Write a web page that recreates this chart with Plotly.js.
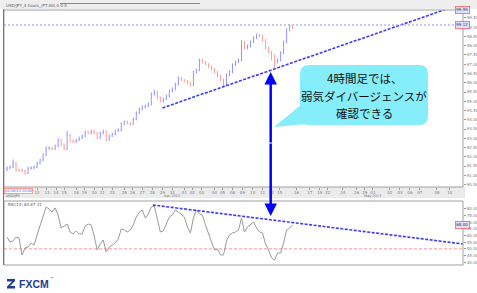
<!DOCTYPE html>
<html>
<head>
<meta charset="utf-8">
<script src="https://cdn.plot.ly/plotly-3.0.1.min.js"></script>
<style>html,body{margin:0;padding:0;background:#fff;}#chart{width:477px;height:293px;}</style>
</head>
<body>
<div id="chart"></div>
<script>
// ---- data ----
const opens = [91.30,91.39,91.45,91.66,91.28,91.28,91.23,91.12,91.39,91.39,
 91.45,91.66,91.83,92.10,92.47,92.47,92.42,92.58,92.91,92.64,
 92.42,93.18,92.85,92.80,92.91,93.01,93.12,93.34,93.28,93.39,
 93.28,93.01,93.28,93.39,92.91,93.12,93.23,93.39,93.45,93.77,
 93.88,93.82,93.77,94.04,94.37,94.58,94.69,94.74,94.85,95.39,
 95.50,95.18,95.01,95.12,95.28,95.55,95.66,95.93,96.26,96.15,
 96.09,95.99,95.88,96.58,96.69,97.23,97.12,97.01,96.85,96.74,
 96.58,96.37,96.15,95.88,96.42,96.58,96.96,97.12,97.23,98.20,
 97.88,97.99,98.20,98.42,98.58,98.53,98.31,97.88,97.66,97.45,
 97.12,97.23,97.61,98.20,98.85,99.07];
const highs = [91.47,91.53,91.85,91.72,91.36,91.35,91.30,91.46,91.48,91.52,
 91.73,91.90,92.18,92.56,92.55,92.53,92.66,93.00,92.97,92.71,
 93.40,93.24,92.93,92.98,93.09,93.19,93.42,93.40,93.47,93.45,
 93.34,93.36,93.46,93.44,93.20,93.30,93.47,93.53,93.85,93.96,
 93.95,93.88,94.12,94.45,94.66,94.77,94.82,94.93,95.47,95.62,
 95.56,95.25,95.20,95.35,95.63,95.74,96.01,96.34,96.32,96.21,
 96.15,96.05,96.66,96.77,97.31,97.29,97.18,97.07,96.92,96.80,
 96.64,96.43,96.21,96.50,96.66,97.04,97.20,97.31,98.30,98.26,
 98.06,98.28,98.50,98.66,98.64,98.60,98.37,97.94,97.72,97.52,
 97.31,97.69,98.28,98.93,99.18,99.14];
const lows = [91.22,91.32,91.38,91.20,91.19,91.15,91.03,91.06,91.31,91.33,
 91.39,91.59,91.76,92.03,92.38,92.35,92.36,92.51,92.57,92.35,
 92.36,92.78,92.72,92.74,92.85,92.95,93.06,93.21,93.22,93.20,
 92.94,92.96,93.21,92.83,92.85,93.06,93.16,93.32,93.38,93.70,
 93.75,93.70,93.71,93.97,94.30,94.51,94.62,94.67,94.78,95.32,
 95.10,94.93,94.95,95.06,95.21,95.48,95.59,95.86,96.08,96.02,
 95.92,95.81,95.82,96.51,96.62,97.05,96.94,96.78,96.67,96.51,
 96.30,96.08,95.80,95.82,96.36,96.51,96.89,97.06,97.16,97.80,
 97.82,97.92,98.14,98.35,98.46,98.24,97.80,97.58,97.20,96.80,
 97.05,97.16,97.54,98.13,98.78,98.90];
const closes = [91.39,91.45,91.66,91.28,91.28,91.23,91.12,91.39,91.39,91.45,
 91.66,91.83,92.10,92.47,92.47,92.42,92.58,92.91,92.64,92.42,
 93.18,92.85,92.80,92.91,93.01,93.12,93.34,93.28,93.39,93.28,
 93.01,93.28,93.39,92.91,93.12,93.23,93.39,93.45,93.77,93.88,
 93.82,93.77,94.04,94.37,94.58,94.69,94.74,94.85,95.39,95.50,
 95.18,95.01,95.12,95.28,95.55,95.66,95.93,96.26,96.15,96.09,
 95.99,95.88,96.58,96.69,97.23,97.12,97.01,96.85,96.74,96.58,
 96.37,96.15,95.88,96.42,96.58,96.96,97.12,97.23,98.20,97.88,
 97.99,98.20,98.42,98.58,98.53,98.31,97.88,97.66,97.45,97.12,
 97.23,97.61,98.20,98.85,99.07,98.96];
const rsi = [58.9,55.2,55.9,58.9,58.2,45.4,50.7,51.4,54.4,52.9,
 60.4,67.2,74.7,81.5,80.0,77.7,80.8,75.5,65.7,67.2,
 68.7,62.7,61.2,63.5,61.2,61.2,67.2,68.7,68.0,59.7,
 49.2,53.7,56.7,47.7,51.4,52.9,54.4,57.4,65.0,64.2,
 62.7,64.2,68.0,74.0,77.7,79.2,73.2,76.2,81.5,82.3,
 73.2,62.7,63.5,69.5,74.0,75.5,79.2,77.7,75.5,74.0,
 66.5,62.0,73.2,79.2,76.2,75.5,68.0,62.0,56.7,49.2,
 49.9,45.4,45.4,55.9,60.4,62.0,62.7,64.2,73.2,62.7,
 66.5,68.7,70.2,65.7,62.7,62.0,53.7,49.2,43.2,41.6,
 46.9,46.9,54.4,64.2,65.7,68.0];
const bars = opens.map((_, i) => i);

const priceTrendX = [51.7, 146.3];
const priceTrendY = [94.64, 99.99];
const resistanceLevel = 99.12;
const rsiTrendX = [48.5, 151.7];
const rsiTrendY = [83.0, 53.7];
const rsiLevel = 50;
const arrowBar = 87.7;

const priceTicks = [90.5,91.0,91.5,92.0,92.5,93.0,93.5,94.0,94.5,95.0,95.5,96.0,96.5,97.0,97.5,98.0,98.5,99.0,99.5];
const rsiTicks = [40,45,50,55,60,65,70,75,80];
const dateTickPos = [10,13.3,16.3,19,23,25.7,29,31.7,35,39,41.7,45,48.3,51.7,55,59,61.7,64.7,69,71.7,75,78.3,81.7,85,88,90.7,96.3,100.7,104,106.7,111.7,116.3,119,121.7,127.3,130.7,134,137.3,143,147.3];
const dateTickText = ["12","13","14","15","18","19","20","21","22","25","26","27","28","29","31","01","02","03","04","05","08","09","10","11","12","15","16","17","19","22","24","26","29","01","02","03","06","07","08","10"];
const monthLabels = ["Apr 2013","May 2013"];
const monthPos = [55, 121.7];
const calloutLines = ["4時間足では、","弱気ダイバージェンスが","確認できる"];

// ---- layout helpers ----
const W = 477, H = 293;
const fx = x => x / W;
const fy = y => 1 - y / H;
const xRange = [-1, 151.67];
const tickFont = {family: "DejaVu Sans", size: 4, color: "#777"};

function roundRect(x0, y0, x1, y1, r) {
  return `M ${fx(x0 + r)},${fy(y0)} L ${fx(x1 - r)},${fy(y0)} Q ${fx(x1)},${fy(y0)} ${fx(x1)},${fy(y0 + r)} ` +
         `L ${fx(x1)},${fy(y1 - r)} Q ${fx(x1)},${fy(y1)} ${fx(x1 - r)},${fy(y1)} ` +
         `L ${fx(x0 + r)},${fy(y1)} Q ${fx(x0)},${fy(y1)} ${fx(x0)},${fy(y1 - r)} ` +
         `L ${fx(x0)},${fy(y0 + r)} Q ${fx(x0)},${fy(y0)} ${fx(x0 + r)},${fy(y0)} Z`;
}
const tailPath = `M ${fx(302)},${fy(104)} L ${fx(274)},${fy(127)} L ${fx(306)},${fy(124)} Z`;

const traces = [
  {type: "ohlc", x: bars, open: opens, high: highs, low: lows, close: closes,
   xaxis: "x", yaxis: "y", tickwidth: 0.2, hoverinfo: "skip",
   increasing: {line: {color: "#9494ff", width: 1}},
   decreasing: {line: {color: "#ff9c9c", width: 1}}},
  {type: "scatter", mode: "lines", x: priceTrendX, y: priceTrendY, xaxis: "x", yaxis: "y",
   line: {color: "#3a3aff", width: 1.6, dash: "3px,1.5px"}, hoverinfo: "skip"},
  {type: "scatter", mode: "lines", x: xRange, y: [resistanceLevel, resistanceLevel], xaxis: "x", yaxis: "y",
   line: {color: "#b4b4ff", width: 1.5, dash: "2px,2px"}, hoverinfo: "skip"},
  {type: "scatter", mode: "lines", x: xRange, y: [rsiLevel, rsiLevel], xaxis: "x2", yaxis: "y2",
   line: {color: "#ff9090", width: 1, dash: "3px,2px"}, hoverinfo: "skip"},
  {type: "scatter", mode: "lines", x: bars, y: rsi, xaxis: "x2", yaxis: "y2",
   line: {color: "#9a9a9a", width: 1}, hoverinfo: "skip"},
  {type: "scatter", mode: "lines", x: rsiTrendX, y: rsiTrendY, xaxis: "x2", yaxis: "y2",
   line: {color: "#3a3aff", width: 1.6, dash: "3px,1.5px"}, hoverinfo: "skip"}
];

const shapes = [
  {type: "rect", xref: "paper", yref: "paper", x0: 0, x1: 1, y0: fy(9), y1: 1, fillcolor: "#eeeeee", line: {width: 0}, layer: "below"},
  {type: "line", xref: "paper", yref: "paper", x0: fx(60), x1: fx(200), y0: fy(3.5), y1: fy(3.5), line: {color: "#888", width: 1}},
  {type: "rect", xref: "paper", yref: "paper", x0: fx(3), x1: fx(465), y0: fy(198), y1: fy(187), fillcolor: "#ebebeb", line: {width: 0}, layer: "below"},
  {type: "rect", xref: "paper", yref: "paper", x0: fx(4), x1: fx(463), y0: fy(187), y1: fy(10), line: {color: "#a0a0a0", width: 1}, fillcolor: "rgba(0,0,0,0)"},
  {type: "rect", xref: "paper", yref: "paper", x0: fx(4), x1: fx(463), y0: fy(265), y1: fy(201), line: {color: "#a0a0a0", width: 1}, fillcolor: "rgba(0,0,0,0)"},
  {type: "line", xref: "paper", yref: "paper", x0: fx(3.5), x1: fx(3.5), y0: fy(9), y1: fy(265), line: {color: "#777", width: 1}},
  {type: "path", xref: "paper", yref: "paper", path: roundRect(300, 65, 428, 125, 9), fillcolor: "#86eefa", line: {width: 0}},
  {type: "path", xref: "paper", yref: "paper", path: tailPath, fillcolor: "#86eefa", line: {width: 0}},
  {type: "path", xref: "paper", yref: "paper",
   path: `M ${fx(7)},${fy(279)} L ${fx(15)},${fy(279)} L ${fx(15)},${fy(281)} L ${fx(10)},${fy(286)} L ${fx(15)},${fy(286)} L ${fx(15)},${fy(288.5)} L ${fx(7)},${fy(288.5)} L ${fx(7)},${fy(286.5)} L ${fx(12)},${fy(281.5)} L ${fx(7)},${fy(281.5)} Z`,
   fillcolor: "#1d3c9c", line: {width: 0}}
];

const annotations = [
  ...calloutLines.map((t, i) => ({xref: "paper", yref: "paper", x: fx(364), y: fy(78 + i * 17.5), text: t, showarrow: false,
    font: {family: "Noto Sans CJK JP", size: 11.5, color: "#111"}, xanchor: "center", yanchor: "middle"})),
  {xref: "x", yref: "paper", x: arrowBar, y: fy(72), ax: 0, ay: 72, axref: "pixel", ayref: "pixel", text: "", showarrow: true,
   arrowcolor: "#0000ff", arrowwidth: 2.5, arrowhead: 2, arrowsize: 1},
  {xref: "x", yref: "paper", x: arrowBar, y: fy(216), ax: 0, ay: -74, axref: "pixel", ayref: "pixel", text: "", showarrow: true,
   arrowcolor: "#0000ff", arrowwidth: 2.5, arrowhead: 2, arrowsize: 1},
  {xref: "paper", yref: "paper", x: fx(4), y: fy(5.5), text: "USD/JPY_4 hours_(P7.00) 0 0 0", showarrow: false, xanchor: "left", yanchor: "middle", font: {family: "DejaVu Sans", size: 4, color: "#555"}},
  {xref: "paper", yref: "paper", x: fx(4), y: fy(191), text: "02/26/13 20:00", showarrow: false, xanchor: "left", yanchor: "middle", bordercolor: "#ff6060", borderwidth: 0.6, borderpad: 0.5, bgcolor: "#fff", font: {family: "DejaVu Sans", size: 3.5, color: "#4455cc"}},
  {xref: "paper", yref: "paper", x: fx(4), y: fy(196), text: "USD/JPY", showarrow: false, xanchor: "left", yanchor: "middle", font: {family: "DejaVu Sans", size: 3.5, color: "#555"}},
  {xref: "paper", yref: "paper", x: fx(6), y: fy(204), text: "RSI(14) 64.87 31", showarrow: false, xanchor: "left", yanchor: "middle", font: {family: "DejaVu Sans", size: 4, color: "#555"}},
  ...monthLabels.map((t, i) => ({xref: "x", yref: "paper", x: monthPos[i], y: fy(195.5), text: t, showarrow: false, yanchor: "middle", font: {family: "DejaVu Sans", size: 3.5, color: "#777"}})),
  {xref: "paper", yref: "paper", x: fx(470), y: fy(6), text: priceTrendY[1].toFixed(2), showarrow: false, bordercolor: "#ff6060", borderwidth: 0.8, borderpad: 0.5, bgcolor: "#dde0ff", font: {family: "DejaVu Sans", size: 4, color: "#333"}},
  {xref: "paper", yref: "y", x: fx(470), y: resistanceLevel, text: resistanceLevel.toFixed(2), showarrow: false, bordercolor: "#ff6060", borderwidth: 0.8, borderpad: 0.5, bgcolor: "#dde0ff", font: {family: "DejaVu Sans", size: 4, color: "#333"}},
  {xref: "paper", yref: "y2", x: fx(470), y: rsi[rsi.length - 1], text: rsi[rsi.length - 1].toFixed(2), showarrow: false, bordercolor: "#ff6060", borderwidth: 0.8, borderpad: 0.5, bgcolor: "#dde0ff", font: {family: "DejaVu Sans", size: 4, color: "#333"}},
  {xref: "paper", yref: "paper", x: fx(16.5), y: fy(284), text: "<b>FXCM</b>", showarrow: false, xanchor: "left", yanchor: "middle", font: {family: "Liberation Sans", size: 10.5, color: "#1d3c9c"}},
  {xref: "paper", yref: "paper", x: fx(48), y: fy(278), text: "™", showarrow: false, xanchor: "left", yanchor: "middle", font: {family: "DejaVu Sans", size: 4, color: "#1d3c9c"}}
];

const layout = {
  width: W, height: H,
  margin: {l: 0, r: 0, t: 0, b: 0},
  paper_bgcolor: "#ffffff", plot_bgcolor: "#ffffff",
  showlegend: false,
  xaxis: {domain: [fx(4), fx(463)], range: xRange, anchor: "y", rangeslider: {visible: false},
    tickmode: "array", tickvals: dateTickPos, ticktext: dateTickText, tickfont: tickFont,
    ticks: "outside", ticklen: 1.5, tickcolor: "#999", showgrid: false, zeroline: false, showline: false, fixedrange: true},
  yaxis: {domain: [fy(187), fy(10)], range: [90.365, 99.932], anchor: "x", side: "right",
    tickmode: "array", tickvals: priceTicks, ticktext: priceTicks.map(v => v.toFixed(2)), tickfont: tickFont,
    ticks: "outside", ticklen: 2, tickcolor: "#999", showgrid: false, zeroline: false, showline: false, fixedrange: true},
  xaxis2: {domain: [fx(4), fx(463)], range: xRange, anchor: "y2", showticklabels: false, ticks: "",
    showgrid: false, zeroline: false, showline: false, fixedrange: true},
  yaxis2: {domain: [fy(265), fy(201)], range: [37.9, 86.0], anchor: "x2", side: "right",
    tickmode: "array", tickvals: rsiTicks, ticktext: rsiTicks.map(v => v.toFixed(2)), tickfont: tickFont,
    ticks: "outside", ticklen: 2, tickcolor: "#999", showgrid: false, zeroline: false, showline: false, fixedrange: true},
  shapes: shapes,
  annotations: annotations
};

Plotly.newPlot("chart", traces, layout, {staticPlot: true, displayModeBar: false});
</script>
</body>
</html>
